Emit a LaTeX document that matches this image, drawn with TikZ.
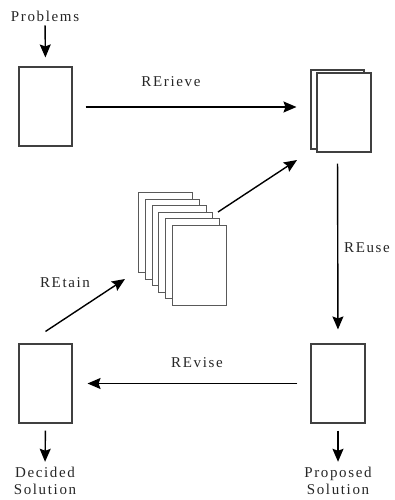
\documentclass[tikz,border=0pt]{standalone}
\usepackage{fontspec}
\setmainfont[LetterSpace=11]{Liberation Serif}
\usetikzlibrary{arrows.meta}
\begin{document}
\begin{tikzpicture}[x=1pt,y=-1pt,
  font=\fontsize{15}{17.5}\selectfont,
  sheet/.style={draw=black!75,line width=1.1pt,fill=white,minimum width=53pt,minimum height=79pt,inner sep=0pt},
  arr/.style={line width=1.4pt,-{Stealth[length=13pt,width=11pt,inset=2pt]}},
  lbl/.style={inner sep=0pt,align=center,text=black!85}]
\useasboundingbox (0,0) rectangle (395,500);

% single case boxes
\node[sheet] (tl) at (45.5,106.5) {};
\node[sheet] (bl) at (45.5,383.5) {};
\node[sheet,minimum width=54pt] (br) at (338,383.5) {};

% retrieved cases (two sheets)
\node[sheet] (trb) at (337.5,109.5) {};
\node[sheet,minimum width=54pt] (trf) at (344,112.5) {};

% case base (six stacked sheets)
\foreach \i in {0,...,5}{
  \node[sheet,draw=black!65,line width=0.95pt,minimum width=54pt,minimum height=80pt,anchor=north west]
    (s\i) at ({138+6.8*\i},{192+6.6*\i}) {};
}

% texts
\node[lbl] (prob) at (45,16) {Problems};
\node[lbl] (dec) at (45,481) {Decided\\Solution};
\node[lbl] (prop) at (338,481) {Proposed\\Solution};
\node[lbl] at (171,82) {RErieve};
\node[lbl] at (367,248) {REuse};
\node[lbl] at (197,363) {REvise};
\node[lbl] at (65,283) {REtain};

% free ends of the case-base arrows
\coordinate (rtEnd) at (125,279);
\coordinate (cbStart) at (218,212);
\coordinate (cbEnd) at (297,160);

% connectors
\draw[arr,shorten <=4pt,shorten >=9pt] (prob.south) -- (tl.north);
\draw[arr,shorten <=13pt,shorten >=14pt] (tl.east |- 0,107) -- (trb.west |- 0,107);
\draw[arr,shorten <=14pt,shorten >=14pt] (trb.south) -- (br.north);
\draw[arr,shorten <=13pt,shorten >=15pt] (br.west) -- (bl.east);
\draw[arr,shorten <=7pt,shorten >=5pt] (br.south) -- (prop.north);
\draw[arr,shorten <=7pt,shorten >=5pt] (bl.south) -- (dec.north);
\draw[arr] ([yshift=12pt]bl.north) -- (rtEnd);
\draw[arr] (cbStart) -- (cbEnd);
\end{tikzpicture}
\end{document}
